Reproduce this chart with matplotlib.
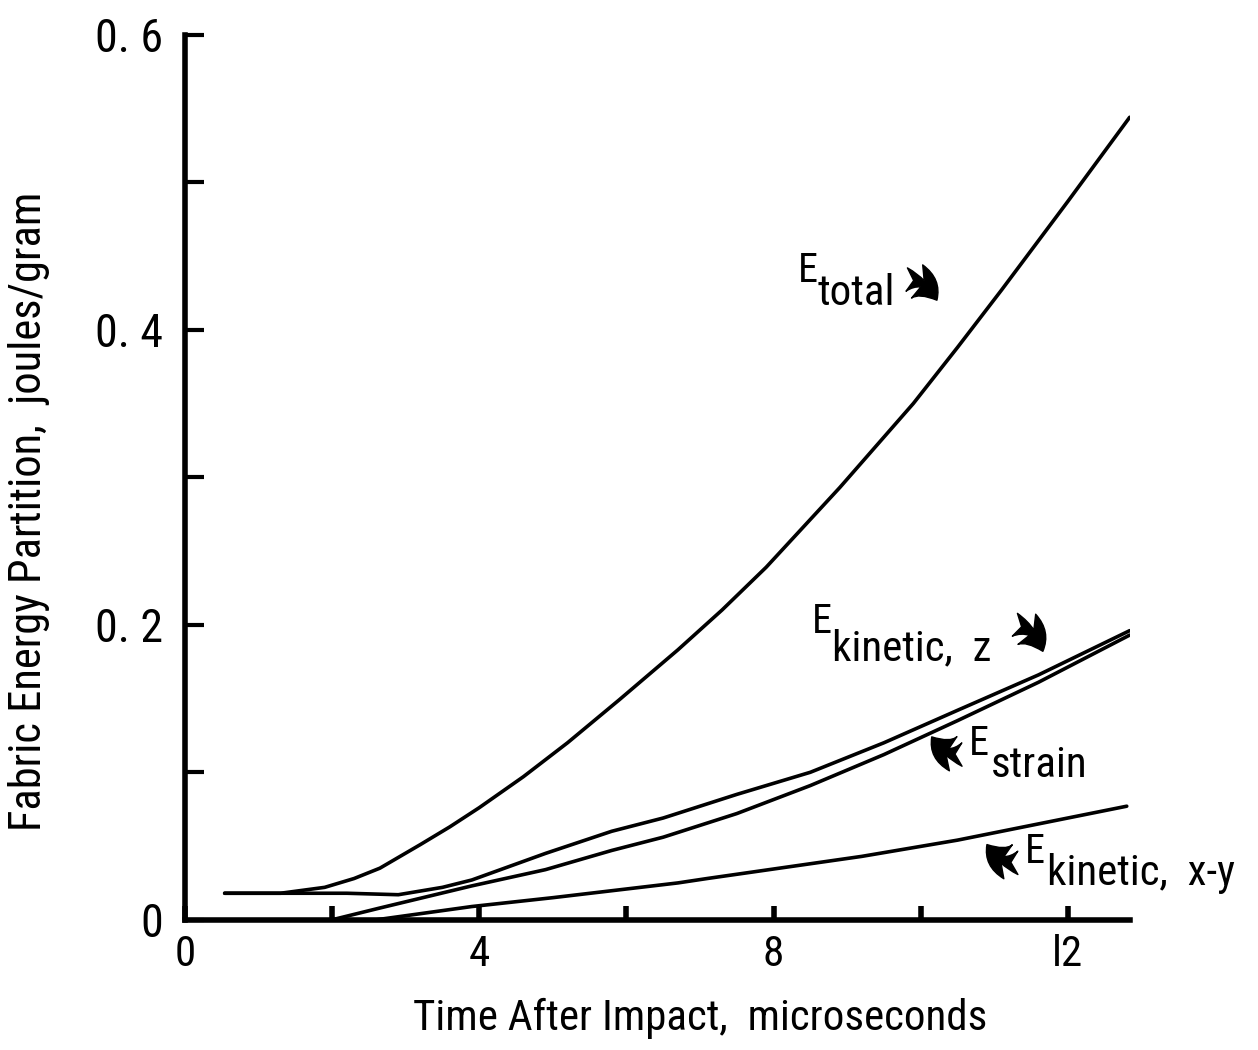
import matplotlib.pyplot as plt
from matplotlib import font_manager as fm
from matplotlib.ticker import FixedLocator

# dados (tempo em microssegundos, energia em joules/grama)
t_total = [0.54, 1.3, 1.9, 2.3, 2.65, 3.2, 3.6, 4.0, 4.6, 5.2, 5.9, 6.7, 7.3, 7.9, 8.9, 9.9, 10.5, 11.1, 12.0, 12.84]
e_total = [0.018, 0.018, 0.022, 0.028, 0.035, 0.051, 0.063, 0.076, 0.097, 0.120, 0.149, 0.183, 0.210, 0.239,
           0.293, 0.350, 0.388, 0.427, 0.487, 0.544]

t_kin_z = [0.54, 1.5, 2.2, 2.9, 3.5, 3.9, 4.9, 5.8, 6.5, 7.5, 8.5, 9.5, 10.5, 11.6, 12.84]
e_kin_z = [0.018, 0.018, 0.018, 0.017, 0.022, 0.027, 0.045, 0.060, 0.069, 0.085, 0.100, 0.120, 0.142, 0.166, 0.196]

t_strain = [2.0, 2.65, 3.9, 4.9, 5.8, 6.5, 7.5, 8.5, 9.5, 10.5, 11.6, 12.84]
e_strain = [0.0, 0.008, 0.023, 0.034, 0.047, 0.056, 0.072, 0.091, 0.112, 0.135, 0.161, 0.193]

t_kin_xy = [2.6, 3.9, 5.0, 6.7, 7.1, 9.2, 10.5, 12.8]
e_kin_xy = [0.0, 0.009, 0.015, 0.025, 0.028, 0.043, 0.054, 0.077]

y_ticks = [0, 0.1, 0.2, 0.3, 0.4, 0.5, 0.6]
y_labels = ['0', '', '0. 2', '', '0. 4', '', '0. 6']
x_major = [0, 4, 8, 12]
x_labels = ['0', '4', '8', 'l2']
x_minor = [2, 6, 10]

#procura uma fonte estreita instalada
nomes = {f.name for f in fm.fontManager.ttflist}
estreita = None
for cand in ['Liberation Sans Narrow', 'DejaVu Sans Condensed', 'Roboto Condensed', 'Open Sans Condensed']:
    if cand in nomes:
        estreita = cand
        break
if estreita:
    plt.rcParams['font.family'] = [estreita, 'DejaVu Sans']
else:
    plt.rcParams['font.family'] = ['DejaVu Sans']
    plt.rcParams['font.stretch'] = 'condensed'

fig = plt.figure(figsize=(12.58, 10.5), dpi=100)
ax = fig.add_axes([0.147, 0.124, 0.751, 0.843])

#curvas
for t, e in [(t_total, e_total), (t_kin_z, e_kin_z), (t_strain, e_strain), (t_kin_xy, e_kin_xy)]:
    ax.plot(t, e, color='black', lw=2.6, solid_capstyle='round', solid_joinstyle='round')

ax.set_xlim(0, 12.84)
ax.set_ylim(0, 0.6)
ax.spines['top'].set_visible(False)
ax.spines['right'].set_visible(False)
ax.spines['left'].set_linewidth(4)
ax.spines['bottom'].set_linewidth(4)

ax.set_yticks(y_ticks)
ax.set_yticklabels(y_labels)
ax.xaxis.set_major_locator(FixedLocator(x_major))
ax.set_xticklabels(x_labels)
ax.xaxis.set_minor_locator(FixedLocator(x_minor))
ax.tick_params(axis='y', direction='in', length=14, width=3, labelsize=33, pad=16)
ax.tick_params(axis='x', which='both', direction='in', length=10, width=4, labelsize=31, pad=10)

ax.set_xlabel('Time After Impact,  microseconds', fontsize=31)
ax.xaxis.set_label_coords(0.545, -0.088)
ax.set_ylabel('Fabric Energy Partition,  joules/gram', fontsize=32)
ax.yaxis.set_label_coords(-0.143, 0.461)

#rotulos das curvas (E + subscrito)
rotulos = [
    (8.33, 0.4325, 8.6, 0.417, 'total'),
    (8.52, 0.1946, 8.8, 0.176, 'kinetic,  z'),
    (10.65, 0.112, 10.95, 0.097, 'strain'),
    (11.42, 0.0386, 11.72, 0.0237, 'kinetic,  x-y'),
]
for xe, ye, xs, ys, sub in rotulos:
    ax.text(xe, ye, 'E', fontsize=29, ha='left', va='baseline', clip_on=False)
    ax.text(xs, ys, sub, fontsize=31, ha='left', va='baseline', clip_on=False)

#setas curvas grossas
setas = [
    ((9.81, 0.434), (10.22, 0.420)),
    ((11.28, 0.200), (11.66, 0.182)),
    ((10.56, 0.112), (10.15, 0.124)),
    ((11.32, 0.0386), (10.9, 0.051)),
]
for cauda, ponta in setas:
    ax.annotate('', xy=ponta, xytext=cauda,
                arrowprops=dict(arrowstyle='fancy,head_length=0.7,head_width=0.9,tail_width=0.6',
                                connectionstyle='arc3,rad=-0.3', color='black',
                                mutation_scale=28, shrinkA=0, shrinkB=0))

plt.savefig('out.png', dpi=100)
